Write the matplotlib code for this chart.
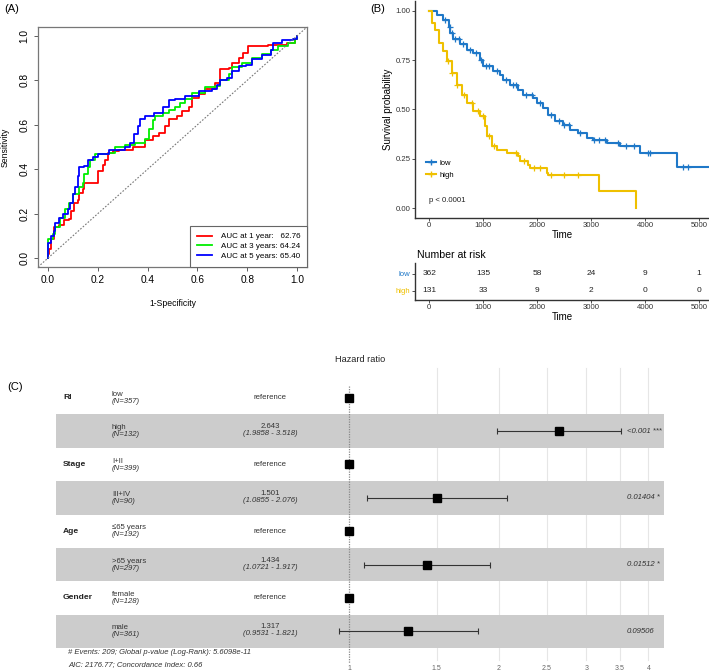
import matplotlib
matplotlib.use('Agg')
import matplotlib.pyplot as plt
import matplotlib.transforms as mtrans
import numpy as np

plt.rcParams['font.family'] = ['Liberation Sans', 'DejaVu Sans']

W, H = 709, 670

# ---- (A) time-dependent ROC ----
fpr1 = [0,0,0.005,0.012,0.025,0.045,0.065,0.085,0.092,0.105,0.12,0.125,0.14,0.145,0.19,0.2,0.21,0.22,0.23,0.24,0.26,0.285,0.34,0.39,0.42,0.445,0.47,0.485,0.52,0.54,0.565,0.58,0.605,0.63,0.67,0.69,0.725,0.74,0.765,0.785,0.805,0.875,0.885,0.94,0.96,0.99,1]
tpr1 = [0,0.02,0.04,0.085,0.14,0.15,0.17,0.175,0.21,0.25,0.26,0.295,0.31,0.34,0.34,0.39,0.39,0.42,0.44,0.475,0.48,0.485,0.5,0.53,0.55,0.565,0.595,0.625,0.64,0.66,0.68,0.72,0.74,0.76,0.79,0.85,0.855,0.88,0.9,0.925,0.955,0.955,0.96,0.96,0.97,0.985,1]
fpr3 = [0,0,0.02,0.03,0.05,0.07,0.085,0.1,0.125,0.14,0.145,0.16,0.17,0.19,0.21,0.245,0.27,0.31,0.35,0.39,0.405,0.42,0.43,0.46,0.485,0.51,0.53,0.55,0.58,0.63,0.67,0.69,0.725,0.74,0.78,0.82,0.86,0.895,0.925,0.965,0.99,1]
tpr3 = [0,0.085,0.11,0.14,0.18,0.22,0.25,0.29,0.32,0.34,0.38,0.41,0.44,0.47,0.47,0.475,0.5,0.51,0.52,0.535,0.58,0.62,0.64,0.655,0.665,0.68,0.7,0.715,0.745,0.77,0.775,0.8,0.83,0.86,0.88,0.9,0.92,0.935,0.955,0.97,0.985,1]
fpr5 = [0,0,0.012,0.025,0.03,0.045,0.06,0.08,0.09,0.1,0.11,0.12,0.125,0.145,0.16,0.18,0.2,0.245,0.27,0.31,0.33,0.345,0.36,0.37,0.39,0.425,0.46,0.485,0.51,0.55,0.605,0.66,0.68,0.69,0.72,0.74,0.765,0.795,0.82,0.86,0.895,0.905,0.94,0.985,1]
tpr5 = [0,0.07,0.1,0.12,0.16,0.18,0.2,0.22,0.25,0.29,0.32,0.37,0.41,0.415,0.44,0.455,0.47,0.485,0.485,0.5,0.52,0.56,0.595,0.625,0.64,0.655,0.68,0.71,0.715,0.73,0.75,0.76,0.78,0.8,0.81,0.84,0.865,0.87,0.895,0.915,0.935,0.97,0.98,0.985,1]
roc_labels = ['AUC at 1 year:   62.76', 'AUC at 3 years: 64.24', 'AUC at 5 years: 65.40']
roc_colors = ['#FF0000', '#00EE00', '#0000FF']

# ---- (B) Kaplan-Meier ----
km_low_t = [0,140,265,360,390,450,575,700,820,945,1005,1190,1315,1375,1500,1655,1745,1930,1995,2115,2210,2333,2488,2610,2765,2920,3045,3290,3537,3900,4600,5250]
km_low_s = [1.0,0.98,0.956,0.92,0.888,0.855,0.83,0.80,0.787,0.753,0.72,0.694,0.677,0.651,0.626,0.60,0.575,0.558,0.533,0.508,0.474,0.44,0.423,0.398,0.381,0.355,0.347,0.33,0.313,0.279,0.21,0.21]
km_high_t = [0,50,110,175,265,325,420,510,600,700,820,945,1035,1070,1160,1250,1440,1655,1685,1840,1870,2180,2210,3150,3840]
km_high_s = [1.0,0.94,0.905,0.838,0.795,0.745,0.685,0.626,0.575,0.533,0.49,0.465,0.415,0.364,0.313,0.296,0.28,0.262,0.237,0.22,0.203,0.178,0.169,0.085,0.0]
cens_low = [300,380,420,480,560,620,760,870,960,1050,1100,1250,1420,1550,1600,1800,1900,2050,2250,2400,2500,2600,2800,3050,3150,3250,3500,3650,3800,4050,4100,4700,4800]
cens_high = [350,420,520,650,800,900,1000,1100,1200,1600,1750,1950,2050,2250,2500,2750]
risk_times = [0,1000,2000,3000,4000,5000]
risk_low = [362,135,58,24,9,1]
risk_high = [131,33,9,2,0,0]
col_low, col_high = '#1F78C8', '#EFC000'

# ---- (C) forest plot ----
var_names = ['RI', '', 'Stage', '', 'Age', '', 'Gender', '']
levels = ['low', 'high', 'I+II', 'III+IV', '\u226465 years', '>65 years', 'female', 'male']
n_obs = [357, 132, 399, 90, 192, 297, 128, 361]
hr = [1, 2.643, 1, 1.501, 1, 1.434, 1, 1.317]
hr_lo = [None, 1.9858, None, 1.0855, None, 1.0721, None, 0.9531]
hr_hi = [None, 3.518, None, 2.076, None, 1.917, None, 1.821]
pvals = ['', '<0.001 ***', '', '0.01404 *', '', '0.01512 *', '', '0.09506']
hr_ticks = [1, 1.5, 2, 2.5, 3, 3.5, 4]


def px_axes(l, t, r, b):
    return fig.add_axes([l / W, 1 - b / H, (r - l) / W, (b - t) / H])


def km_axes_style(ax):
    for s in ['top', 'right']:
        ax.spines[s].set_visible(False)
    for s in ['left', 'bottom']:
        ax.spines[s].set_color('#333333')
        ax.spines[s].set_linewidth(1.0)


fig = plt.figure(figsize=(W / 100, H / 100), dpi=100)

# panel A
ax = px_axes(38, 27, 307, 267)
for f, t, c, lab in zip([fpr1, fpr3, fpr5], [tpr1, tpr3, tpr5], roc_colors, roc_labels):
    ax.step(f, t, where='post', color=c, lw=1.3, label=lab)
ax.axline((0, 0), (1, 1), color='#777777', lw=0.8, ls=(0, (1.5, 1.5)))
ax.set_xlim(-0.04, 1.04)
ax.set_ylim(-0.04, 1.04)
ax.set_xticks([0, 0.2, 0.4, 0.6, 0.8, 1.0])
ax.set_yticks([0, 0.2, 0.4, 0.6, 0.8, 1.0])
ax.set_xticklabels(['0.0', '0.2', '0.4', '0.6', '0.8', '1.0'])
ax.set_yticklabels(['0.0', '0.2', '0.4', '0.6', '0.8', '1.0'], rotation=90, va='center')
ax.tick_params(labelsize=7.3, length=3, width=0.6, color='#444444', pad=3)
for s in ax.spines.values():
    s.set_color('#777777')
    s.set_linewidth(0.9)
ax.set_xlabel('1-Specificity', fontsize=6.2, labelpad=10)
ax.set_ylabel('Sensitivity', fontsize=6.2, labelpad=7)
leg = ax.legend(loc='lower right', fontsize=5.8, fancybox=False, framealpha=1,
                edgecolor='#666666', borderaxespad=0, handlelength=1.9, handletextpad=1.0,
                labelspacing=0.28, borderpad=0.85)
leg.get_frame().set_linewidth(0.8)
fig.text(4 / W, 1 - 9 / H, '(A)', fontsize=8, va='center')

# panel B
ax = px_axes(415, 1, 709, 218)
ax.step(km_low_t, km_low_s, where='post', color=col_low, lw=1.5)
ax.step(km_high_t, km_high_s, where='post', color=col_high, lw=1.5)
ci = np.searchsorted(km_low_t, cens_low, side='right') - 1
ax.plot(cens_low, np.array(km_low_s)[ci], '+', color=col_low, ms=4.5, mew=0.9)
ci = np.searchsorted(km_high_t, cens_high, side='right') - 1
ax.plot(cens_high, np.array(km_high_s)[ci], '+', color=col_high, ms=4.5, mew=0.9)
ax.set_xlim(-262, 5185)
ax.set_ylim(-0.05, 1.05)
ax.set_yticks([0, 0.25, 0.5, 0.75, 1.0])
ax.set_yticklabels(['0.00', '0.25', '0.50', '0.75', '1.00'])
ax.set_xticks(risk_times)
ax.tick_params(labelsize=5.6, length=2, width=0.6, color='#333333', labelcolor='#333333', pad=1.2)
km_axes_style(ax)
ax.set_xlabel('Time', fontsize=7, labelpad=0.5)
ax.set_ylabel('Survival probability', fontsize=7, labelpad=1.5)
h1, = ax.plot([], [], color=col_low, lw=1.5, marker='+', ms=4)
h2, = ax.plot([], [], color=col_high, lw=1.5, marker='+', ms=4)
ax.legend([h1, h2], ['low', 'high'], loc='center left', bbox_to_anchor=(0.027, 0.226), frameon=False,
          fontsize=5.5, handlelength=1.3, handletextpad=0.5, labelspacing=0.58,
          borderaxespad=0, borderpad=0.4)
ax.text(0, 0.04, 'p < 0.0001', fontsize=5.6, va='center', ha='left', color='#222222')
fig.text(370 / W, 1 - 9 / H, '(B)', fontsize=8, va='center')

# risk table
ax = px_axes(415, 263, 709, 300)
for t, a, b in zip(risk_times, risk_low, risk_high):
    ax.text(t, 1, str(a), ha='center', va='center', fontsize=6, color='#222222')
    ax.text(t, 0, str(b), ha='center', va='center', fontsize=6, color='#222222')
ax.set_xlim(-262, 5185)
ax.set_ylim(-0.55, 1.65)
ax.set_yticks([1, 0])
ax.set_yticklabels(['low', 'high'])
for lab, c in zip(ax.get_yticklabels(), [col_low, col_high]):
    lab.set_color(c)
ax.set_xticks(risk_times)
ax.tick_params(labelsize=5.6, length=2, width=0.6, color='#333333', pad=1.2)
ax.tick_params(axis='x', labelcolor='#333333')
km_axes_style(ax)
ax.set_xlabel('Time', fontsize=7, labelpad=0.5)
fig.text(417 / W, 1 - 255 / H, 'Number at risk', fontsize=7.6, va='center')

# panel C
ax = px_axes(56, 381, 664, 648)
nrow = len(levels)
ax.set_xlim((56 - 349) / 216, (664 - 349) / 216)
ax.set_ylim(nrow - 0.5, -0.5)
ax.axis('off')
for i in range(1, nrow, 2):
    ax.axhspan(i - 0.5, i + 0.5, color='#CCCCCC', lw=0, zorder=1)
for v in hr_ticks[1:]:
    ax.plot([np.log(v)] * 2, [-0.88, nrow - 0.5 + 0.35], color='#E6E6E6', lw=0.8, zorder=0, clip_on=False)
ax.plot([0, 0], [-0.35, nrow - 0.5 + 0.45], color='#888888', lw=0.9, ls=(0, (1, 1)), zorder=2, clip_on=False)
for v in hr_ticks:
    ax.text(np.log(v), nrow - 0.5 + 0.6, str(v), ha='center', va='center', fontsize=5, color='#666666')
tr = mtrans.blended_transform_factory(fig.transFigure, ax.transData)
fs = 5.6
for i in range(nrow):
    if var_names[i]:
        ax.text(63 / W, i, var_names[i], transform=tr, fontsize=6.1, fontweight='bold', va='center', color='#222222')
    ax.text(112 / W, i - 0.1, levels[i], transform=tr, fontsize=fs, va='center', color='#333333')
    ax.text(112 / W, i + 0.11, '(N=%d)' % n_obs[i], transform=tr, fontsize=fs, va='center',
            style='italic', color='#333333')
    if hr_lo[i] is None:
        ax.text(270 / W, i, 'reference', transform=tr, fontsize=fs, va='center', ha='center', color='#333333')
    else:
        ax.text(270 / W, i - 0.13, str(hr[i]), transform=tr, fontsize=fs, va='center', ha='center', color='#333333')
        ax.text(270 / W, i + 0.08, '(%s - %s)' % (hr_lo[i], hr_hi[i]), transform=tr, fontsize=fs,
                va='center', ha='center', style='italic', color='#333333')
        ax.errorbar(np.log(hr[i]), i, xerr=[[np.log(hr[i]) - np.log(hr_lo[i])], [np.log(hr_hi[i]) - np.log(hr[i])]],
                    color='#333333', lw=0.8, capsize=2, capthick=0.8, zorder=3)
    ax.plot(np.log(hr[i]), i, 's', color='black', ms=5.5, zorder=4)
    if pvals[i]:
        ax.text(627 / W, i, pvals[i], transform=tr, fontsize=5.6, va='center', style='italic', color='#333333')
fig.text(360 / W, 1 - 360 / H, 'Hazard ratio', fontsize=6.6, ha='center', va='center', color='#222222')
fig.text(68 / W, 1 - 653 / H, '# Events: 209; Global p-value (Log-Rank): 5.6098e-11', fontsize=5.5,
         style='italic', va='center', color='#333333')
fig.text(68 / W, 1 - 665 / H, 'AIC: 2176.77; Concordance Index: 0.66', fontsize=5.5,
         style='italic', va='center', color='#333333')
fig.text(7 / W, 1 - 387 / H, '(C)', fontsize=8, va='center')

fig.savefig('out.png', dpi=100)
